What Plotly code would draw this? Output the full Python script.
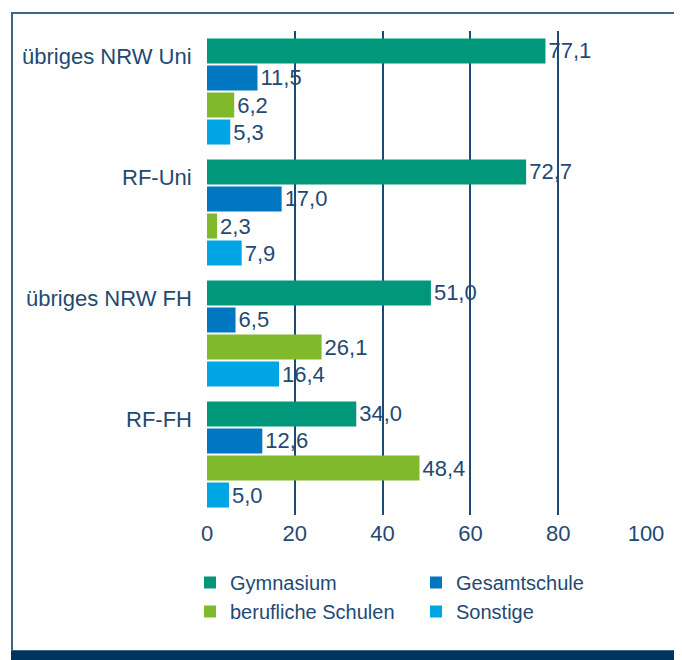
import plotly.graph_objects as go

# data
categories = ["übriges NRW Uni", "RF-Uni", "übriges NRW FH", "RF-FH"]
gymnasium = [77.1, 72.7, 51.0, 34.0]
gesamtschule = [11.5, 17.0, 6.5, 12.6]
berufliche = [6.2, 2.3, 26.1, 48.4]
sonstige = [5.3, 7.9, 16.4, 5.0]

series = [
    ("Gymnasium", gymnasium, "#00977a"),
    ("Gesamtschule", gesamtschule, "#0077c0"),
    ("berufliche Schulen", berufliche, "#80b92b"),
    ("Sonstige", sonstige, "#00a5e3"),
]

NAVY = "#1f4a73"
FONT = "Liberation Sans"

# page body has an 8px margin, so the figure is drawn 8px smaller and shifted
OFF = 8
W, H = 682 - OFF, 660 - OFF
L, R, T, B = 207 - OFF, 36, 31 - OFF, 145
PW, PH = W - L - R, H - T - B


def px_x(p):
    return (p - OFF - L) / PW


def px_y(p):
    return (H - B - (p - OFF)) / PH


fig = go.Figure()
for name, vals, col in series:
    fig.add_trace(go.Bar(
        y=categories,
        x=vals,
        name=name,
        orientation="h",
        marker={"color": col, "line": {"width": 0}},
        text=[f"{v:.1f}".replace(".", ",") for v in vals],
        textposition="outside",
        textfont={"color": NAVY, "size": 22, "family": FONT},
        cliponaxis=False,
    ))

# category labels aligned with the first bar of each group
for c in categories:
    fig.add_annotation(
        x=0, y=c, xref="x", yref="y", text=c, showarrow=False,
        xanchor="right", yanchor="middle", xshift=-13, yshift=35,
        font={"color": NAVY, "size": 22, "family": FONT},
    )

# frame and bottom band
fig.add_shape(type="rect", xref="paper", yref="paper",
              x0=px_x(12), x1=px_x(679), y0=px_y(651), y1=px_y(13),
              line={"color": "#3b6589", "width": 2}, layer="below")
fig.add_shape(type="rect", xref="paper", yref="paper",
              x0=px_x(11), x1=px_x(684), y0=px_y(662), y1=px_y(651),
              fillcolor="#00355f", line={"width": 0})

fig.update_layout(
    width=W, height=H,
    margin={"l": L, "r": R, "t": T, "b": B},
    paper_bgcolor="white", plot_bgcolor="white",
    barmode="group", bargap=0.107, bargroupgap=0.074,
    font={"family": FONT, "color": NAVY, "size": 20},
    showlegend=True,
    legend={
        "orientation": "h", "x": px_x(190), "xanchor": "left",
        "y": px_y(563), "yanchor": "top",
        "entrywidth": 181, "entrywidthmode": "pixels",
        "font": {"size": 20, "color": NAVY, "family": FONT},
        "traceorder": "normal",
    },
)
fig.update_xaxes(
    range=[0, 100], dtick=20, showgrid=True, gridcolor=NAVY, gridwidth=2,
    zeroline=False, showline=False, ticks="", ticklabelstandoff=3,
    tickfont={"size": 22, "color": NAVY}, fixedrange=True,
)
fig.update_yaxes(
    autorange="reversed", showticklabels=False, showgrid=False,
    zeroline=False, showline=False, ticks="", fixedrange=True,
)

fig.write_html("out.html")
